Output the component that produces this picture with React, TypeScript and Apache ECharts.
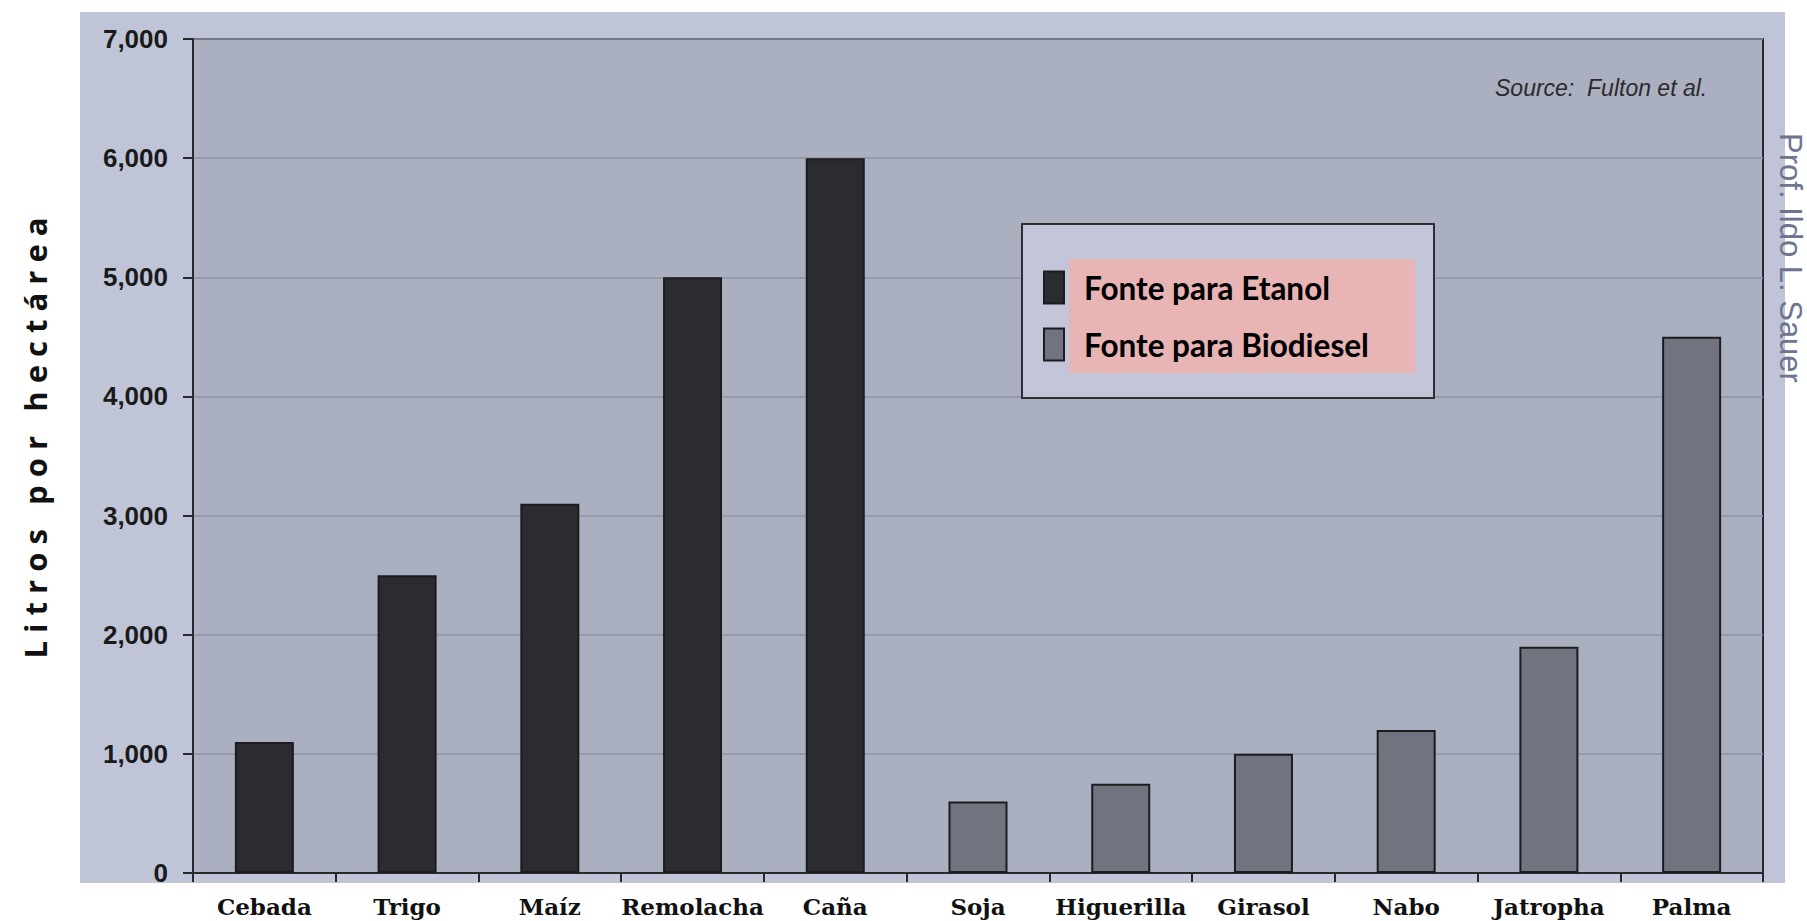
import React, { useEffect, useRef } from "react";
import * as echarts from "echarts";

// Crops and their yield in litres per hectare
const crops = [
  "Cebada", "Trigo", "Maíz", "Remolacha", "Caña",
  "Soja", "Higuerilla", "Girasol", "Nabo", "Jatropha", "Palma",
];
const ethanolYield = [1100, 2500, 3100, 5000, 6000, null, null, null, null, null, null];
const biodieselYield = [null, null, null, null, null, 600, 750, 1000, 1200, 1900, 4500];

const ethanolName = "Fonte para Etanol";
const biodieselName = "Fonte para Biodiesel";
const axisTitle = "L i t r o s   p o r   h e c t á r e a";
const sourceNote = "Source:  Fulton et al.";
const authorNote = "Prof. Ildo L. Sauer";

const W = 1807;
const H = 921;

export default function App() {
  const ref = useRef<HTMLDivElement>(null);

  useEffect(() => {
    if (!ref.current) return;
    const chart = echarts.init(ref.current, null, { renderer: "svg" });
    const barBorder = { borderColor: "#1c1c20", borderWidth: 2 };
    chart.setOption({
      animation: false,
      backgroundColor: "#ffffff",
      grid: {
        left: 193,
        top: 39,
        right: W - 1763,
        bottom: H - 873,
        show: true,
        backgroundColor: "#abb0c0",
        borderColor: "#2a2a2e",
        borderWidth: 2,
      },
      legend: {
        orient: "vertical",
        left: 1022,
        top: 224,
        padding: [35, 19, 25, 21],
        itemGap: 0,
        itemWidth: 20,
        itemHeight: 32,
        icon: "rect",
        backgroundColor: "#c2c6d8",
        borderColor: "#2e2e33",
        borderWidth: 2,
        data: [ethanolName, biodieselName],
        textStyle: {
          fontFamily: "Lato",
          fontWeight: "bold",
          fontSize: 31.5,
          color: "#000000",
          backgroundColor: "#e8b4b4",
          width: 331,
          height: 29,
          lineHeight: 29,
          padding: [10, 0, 18, 15],
        },
      },
      xAxis: {
        type: "category",
        data: crops,
        boundaryGap: true,
        axisLine: { lineStyle: { color: "#2a2a2e", width: 2 } },
        axisTick: { show: true, length: 9, inside: false, alignWithLabel: false, lineStyle: { color: "#2a2a2e", width: 2 } },
        axisLabel: {
          interval: 0,
          margin: 21,
          color: "#111111",
          fontFamily: "DejaVu Serif",
          fontWeight: "bold",
          fontSize: 23,
          lineHeight: 24,
        },
      },
      yAxis: {
        type: "value",
        min: 0,
        max: 7000,
        interval: 1000,
        axisLine: { show: true, lineStyle: { color: "#2a2a2e", width: 2 } },
        axisTick: { show: true, length: 10, lineStyle: { color: "#2a2a2e", width: 2 } },
        splitLine: { show: true, lineStyle: { color: "#8f94a5", width: 1.5 } },
        axisLabel: {
          margin: 25,
          color: "#1a1a1a",
          fontFamily: "Liberation Sans, Arial",
          fontWeight: "bold",
          fontSize: 26,
          formatter: (v: number) => v.toLocaleString("en-US"),
        },
      },
      series: [
        {
          name: ethanolName,
          type: "bar",
          data: ethanolYield,
          barWidth: 59,
          barGap: "-100%",
          itemStyle: { color: "#2b2c30", ...barBorder },
        },
        {
          name: biodieselName,
          type: "bar",
          data: biodieselYield,
          barWidth: 59,
          barGap: "-100%",
          itemStyle: { color: "#71737f", ...barBorder },
        },
      ],
      graphic: [
        {
          type: "rect",
          z: -1,
          silent: true,
          shape: { x: 80, y: 12, width: 1705, height: 871 },
          style: { fill: "#bfc4d6" },
        },
        {
          type: "text",
          x: 35,
          y: 438,
          rotation: Math.PI / 2,
          style: {
            text: axisTitle,
            fontFamily: "Open Sans",
            fontWeight: "bold",
            fontSize: 31,
            fill: "#111111",
            align: "center",
            verticalAlign: "middle",
          },
        },
        {
          type: "text",
          x: 1495,
          y: 88,
          style: {
            text: sourceNote,
            fontFamily: "Liberation Sans, Arial",
            fontStyle: "italic",
            fontSize: 23,
            fill: "#2a2a2e",
            align: "left",
            verticalAlign: "middle",
          },
        },
        {
          type: "text",
          x: 1790,
          y: 258,
          rotation: -Math.PI / 2,
          style: {
            text: authorNote,
            fontFamily: "Liberation Sans, Arial",
            fontSize: 31,
            lineHeight: 31,
            fill: "#6c7490",
            align: "center",
            verticalAlign: "middle",
          },
        },
      ],
    });
    return () => chart.dispose();
  }, []);

  return (
    <div
      ref={ref}
      style={{ position: "fixed", left: 0, top: 0, width: W, height: H }}
    />
  );
}
